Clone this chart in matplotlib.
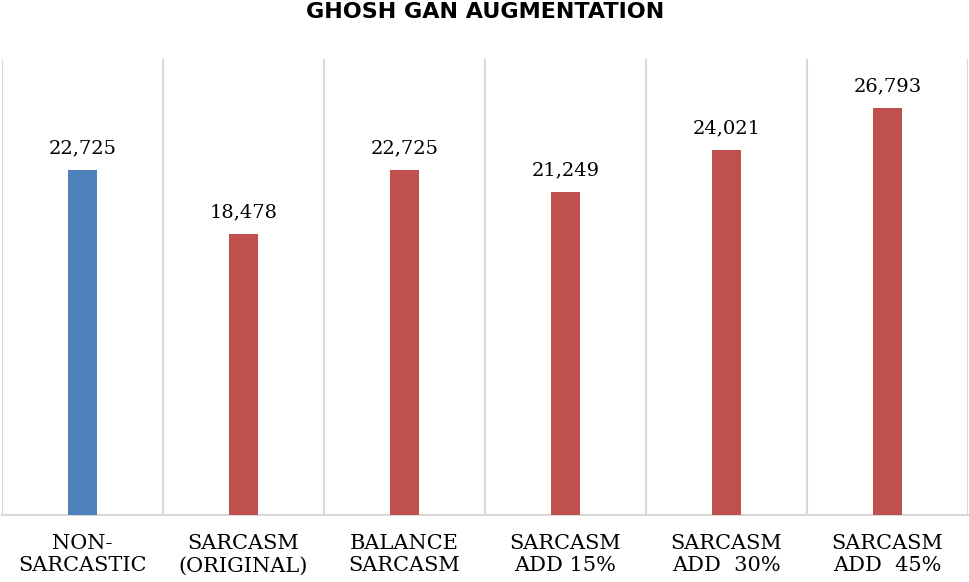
import numpy as np
import matplotlib
matplotlib.use("Agg")
import matplotlib.pyplot as plt

categories = ["NON-\nSARCASTIC", "SARCASM\n(ORIGINAL)", "BALANCE\nSARCASM",
              "SARCASM\nADD 15%", "SARCASM\nADD  30%", "SARCASM\nADD  45%"]
counts = [22725, 18478, 22725, 21249, 24021, 26793]
bar_colors = ["#4F81BD", "#C0504D", "#C0504D", "#C0504D", "#C0504D", "#C0504D"]
title = "GHOSH GAN AUGMENTATION"

fig = plt.figure(figsize=(9.7, 5.82), dpi=100)
ax = fig.add_axes([2 / 970, 67 / 582, 966 / 970, 456 / 582])

x = np.arange(len(categories))
bars = ax.bar(x, counts, width=0.186, color=bar_colors, zorder=3)

for xi, v in zip(x, counts):
    ax.annotate(f"{v:,}", (xi, v), xytext=(0, 12), textcoords="offset points",
                ha="center", va="baseline", fontsize=14, family="DejaVu Serif")

# vertical separators between categories
for b in np.arange(-0.5, len(categories), 1.0):
    ax.axvline(b, color="#D9D9D9", lw=1.5, zorder=1)

ax.set_xlim(-0.5, len(categories) - 0.5)
ax.set_ylim(0, 30000)
ax.set_yticks([])
ax.set_xticks(x)
ax.set_xticklabels(categories, family="DejaVu Serif", fontsize=15, linespacing=1.2)
ax.tick_params(axis="x", length=0, pad=14)
for s in ["top", "left", "right"]:
    ax.spines[s].set_visible(False)
ax.spines["bottom"].set_color("#D9D9D9")
ax.spines["bottom"].set_linewidth(1.5)

fig.text(0.5, 1 - 12 / 582, title, ha="center", va="center", fontsize=16,
         fontweight="bold", family="DejaVu Sans")

fig.savefig("out.png", dpi=100)
